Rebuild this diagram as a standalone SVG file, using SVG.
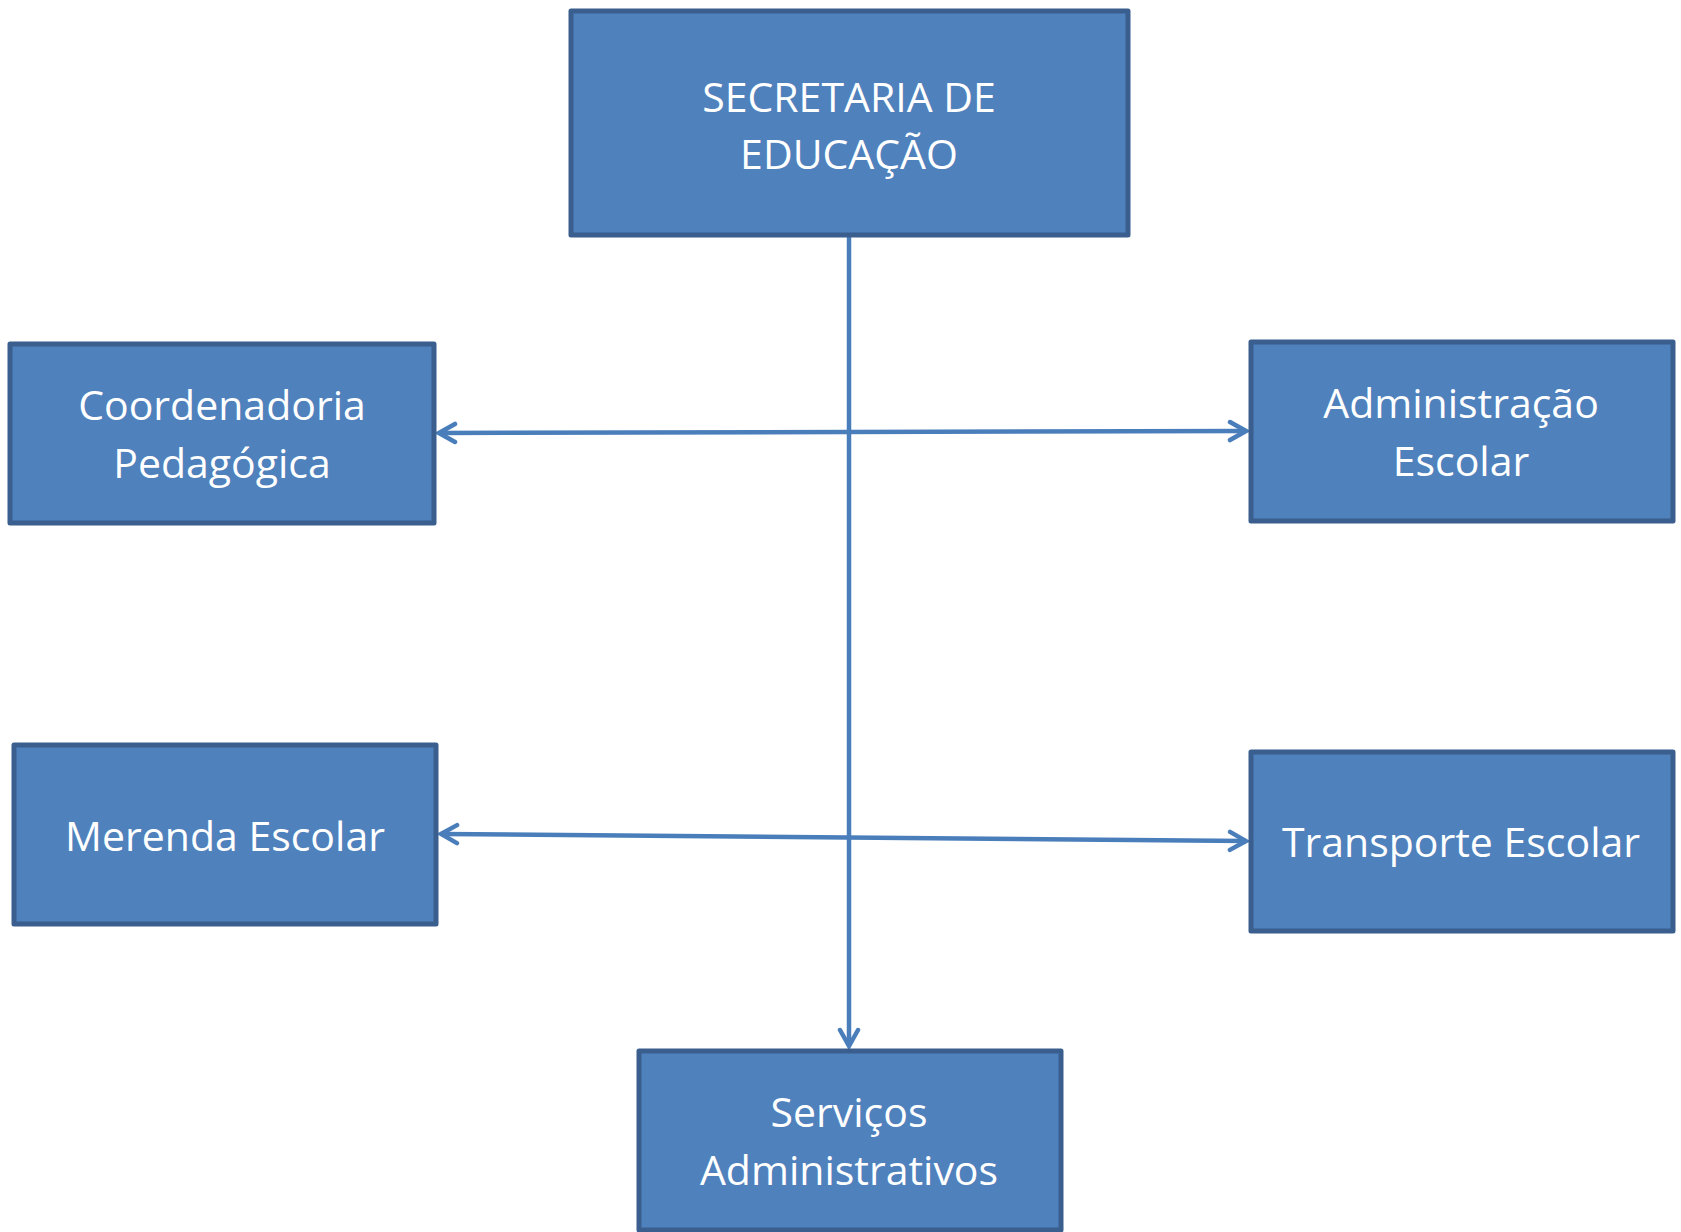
<svg xmlns="http://www.w3.org/2000/svg" width="1681" height="1232" viewBox="0 0 1681 1232">
<style>
.box{fill:#4F81BD;stroke:#3A5F8E;stroke-width:5;stroke-linejoin:round}
.lbl{font-family:"Open Sans","Liberation Sans",sans-serif;font-size:41px;fill:#FFFFFF;text-anchor:middle}
.conn{stroke:#4A7EBB;stroke-width:4.5;fill:none}
</style>
<defs>
<marker id="arr" viewBox="0 0 24 24" refX="21" refY="12" markerWidth="24" markerHeight="24" markerUnits="userSpaceOnUse" orient="auto-start-reverse">
<path d="M5,3 L21,12 L5,21" fill="none" stroke="#4A7EBB" stroke-width="4.5" stroke-linecap="round" stroke-linejoin="miter"/>
</marker>
</defs>
<g id="connectors">
<line class="conn" x1="849" y1="237" x2="849" y2="1046" marker-end="url(#arr)"/>
<line class="conn" x1="439" y1="433" x2="1246" y2="431" marker-start="url(#arr)" marker-end="url(#arr)"/>
<line class="conn" x1="441" y1="834" x2="1246" y2="841" marker-start="url(#arr)" marker-end="url(#arr)"/>
</g>
<g id="secretaria">
<rect class="box" x="571" y="11" width="557" height="224"/>
<text class="lbl" x="849" y="112">SECRETARIA DE</text>
<text class="lbl" x="849" y="169">EDUCAÇÃO</text>
</g>
<g id="coordenadoria">
<rect class="box" x="10" y="344" width="424" height="179"/>
<text class="lbl" x="222" y="420">Coordenadoria</text>
<text class="lbl" x="222" y="478">Pedagógica</text>
</g>
<g id="administracao">
<rect class="box" x="1251" y="342" width="422" height="179"/>
<text class="lbl" x="1461" y="418">Administração</text>
<text class="lbl" x="1461" y="476">Escolar</text>
</g>
<g id="merenda">
<rect class="box" x="14" y="745" width="422" height="179"/>
<text class="lbl" x="225" y="851">Merenda Escolar</text>
</g>
<g id="transporte">
<rect class="box" x="1251" y="752" width="422" height="179"/>
<text class="lbl" x="1461" y="857">Transporte Escolar</text>
</g>
<g id="servicos">
<rect class="box" x="639" y="1051" width="422" height="179"/>
<text class="lbl" x="849" y="1127">Serviços</text>
<text class="lbl" x="849" y="1185">Administrativos</text>
</g>
</svg>
